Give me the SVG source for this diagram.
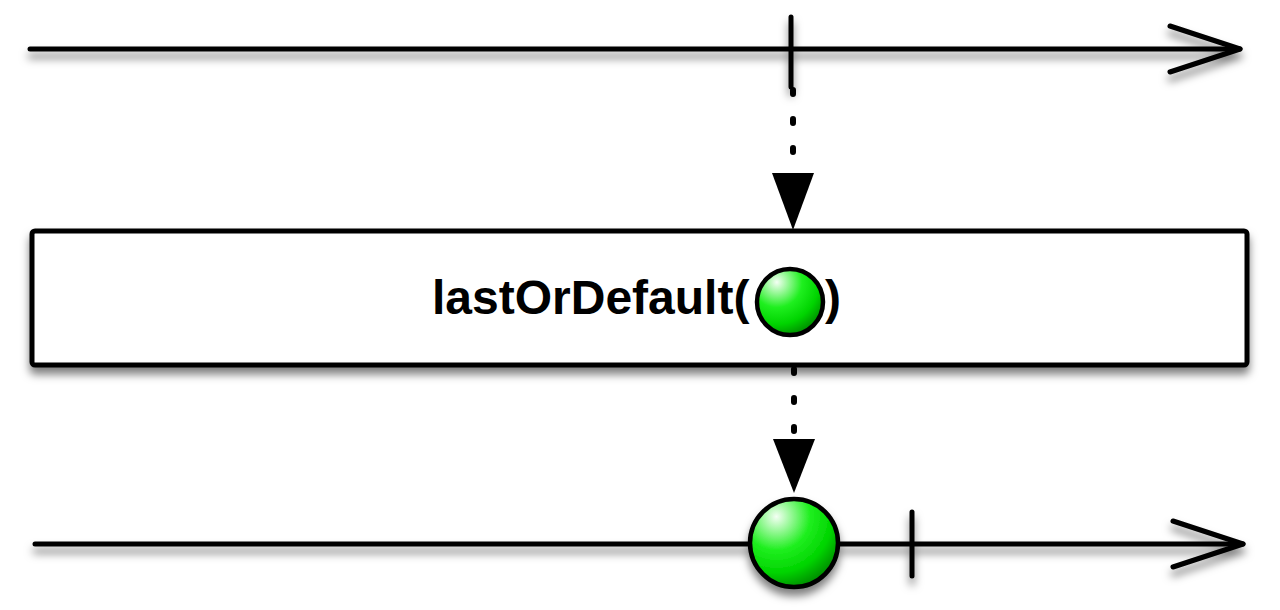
<svg xmlns="http://www.w3.org/2000/svg" width="1280" height="610" viewBox="0 0 1280 610">
<style>
.line{fill:none;stroke:#000;stroke-width:5;stroke-linecap:round;stroke-linejoin:round}
.dot{fill:none;stroke:#000;stroke-width:6;stroke-linecap:round;stroke-dasharray:4 25}
.marble{fill:url(#green);stroke:#000;stroke-width:4.5}
.label{font-family:"Liberation Sans",Arial,sans-serif;font-weight:bold;font-size:48px;fill:#000}
</style>
<defs>
<filter id="sh" x="-20%" y="-50%" width="140%" height="220%">
<feDropShadow dx="0" dy="7" stdDeviation="4" flood-color="#000" flood-opacity="0.5"/>
</filter>
<radialGradient id="green" cx="0.3" cy="0.2" r="0.85">
<stop offset="0" stop-color="#f4fff4"/>
<stop offset="0.45" stop-color="#1fef1f"/>
<stop offset="0.75" stop-color="#00d400"/>
<stop offset="1" stop-color="#008a00"/>
</radialGradient>
</defs>
<g id="top-timeline" filter="url(#sh)">
<path class="line" d="M30 49 H1240"/>
<path class="line" d="M1170 26 L1240 49 L1170 72"/>
<path class="line" d="M791 17 V87"/>
</g>
<g id="connectors">
<path class="dot" d="M793 90 V172"/>
<path d="M772 173 L814 173 L793 230 Z" fill="#000"/>
<path class="dot" d="M794 369 V438"/>
<path d="M773 439 L815 439 L794 493 Z" fill="#000"/>
</g>
<g id="operator">
<rect x="32" y="231" width="1215" height="134" rx="3" fill="#fff" stroke="#000" stroke-width="5" filter="url(#sh)"/>
<text class="label" x="432" y="314">lastOrDefault(</text>
<circle class="marble" cx="790" cy="302" r="33"/>
<text class="label" x="825" y="314">)</text>
</g>
<g id="bottom-timeline" filter="url(#sh)">
<path class="line" d="M35 544 H1243"/>
<path class="line" d="M1173 521 L1243 544 L1173 567"/>
<path class="line" d="M912 512 V576"/>
<circle class="marble" cx="794" cy="543" r="44" stroke-width="5"/>
</g>
</svg>
